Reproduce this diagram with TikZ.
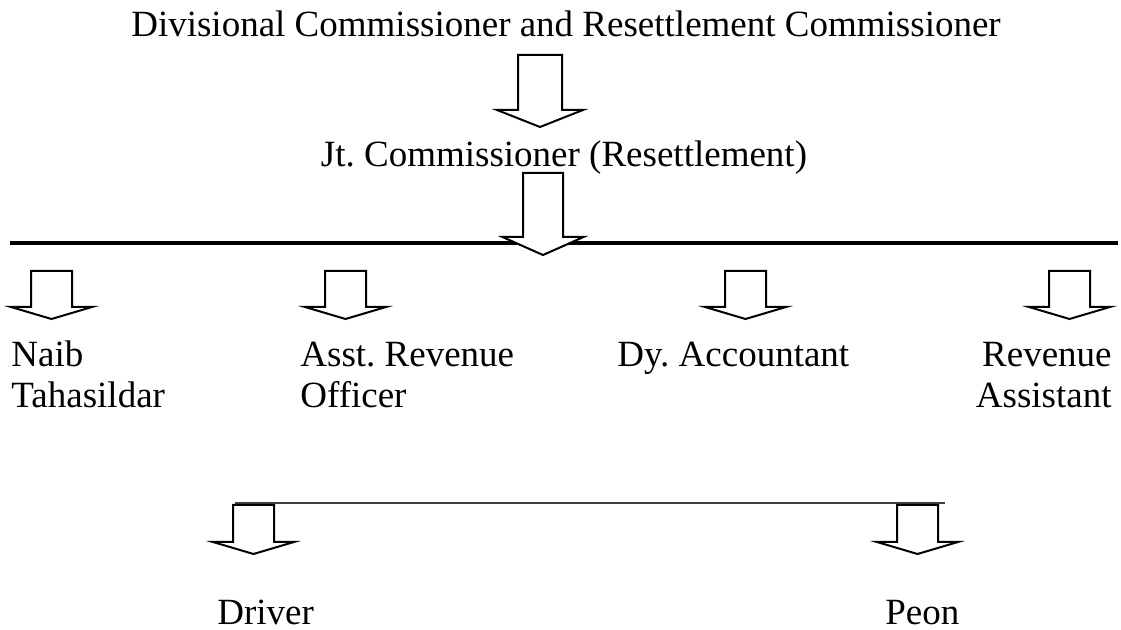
\documentclass[tikz,border=0pt]{standalone}
\usepackage{fontspec}
\setmainfont{Liberation Serif}
\usepackage{tikz}
\usetikzlibrary{positioning, calc}
% block arrow: x, top, neck, tip, half shaft, half head
\newcommand{\BlockArrow}[6]{%
  \filldraw[block arrow] (#1-#5,#2) -- (#1+#5,#2) -- (#1+#5,#3) -- (#1+#6,#3)
    -- (#1,#4) -- (#1-#6,#3) -- (#1-#5,#3) -- cycle;}

\begin{document}
\begin{tikzpicture}[x=0.5pt,y=-0.5pt,
      post node/.style={inner sep=0pt,font=\fontsize{18.5}{20.5}\selectfont\frenchspacing},
      block arrow/.style={draw=black,fill=white,line width=1pt,miter limit=10}]
  \useasboundingbox (0,0) rectangle (1121,630);
  \node[post node, anchor=base] (1) at (566,37) {Divisional Commissioner and Resettlement Commissioner};
  \node[post node, anchor=base] (2) at (564,167) {Jt. Commissioner (Resettlement)};
  \node[post node, anchor=base west, align=left] (3) at (11,408) {Naib\\Tahasildar};
  \node[post node, anchor=base west, align=left] (4) at (300,408) {Asst. Revenue\\Officer};
  \node[post node, anchor=base west] (5) at (617,367) {Dy. Accountant};
  \node[post node, anchor=base east, align=right] (6) at (1112,408) {Revenue\\Assistant};
  \node[post node, anchor=base west] (7) at (217,625) {Driver};
  \node[post node, anchor=base west] (8) at (885,625) {Peon};
  \coordinate (l1) at (10,243);
  \coordinate (l2) at (1118,243);
  \coordinate (m1) at (235,503);
  \coordinate (m2) at (945,503);
  \draw[line width=2pt] (l1) -- (l2);
  \draw[line width=0.8pt, black!75] (m1) -- (m2);
  \BlockArrow{540}{55}{110}{127}{22}{43}
  \BlockArrow{543}{173}{237}{255}{20}{40.5}
  \BlockArrow{51.5}{271}{307}{319}{20.5}{40.5}
  \BlockArrow{345.5}{271}{307}{319}{20.5}{40.5}
  \BlockArrow{745.5}{271}{307}{319}{20.5}{40.5}
  \BlockArrow{1069.5}{271}{307}{319}{20.5}{40.5}
  \BlockArrow{253.5}{505}{542}{554}{20.5}{40.5}
  \BlockArrow{917.5}{505}{542}{554}{20.5}{40.5}
\end{tikzpicture}
\end{document}
